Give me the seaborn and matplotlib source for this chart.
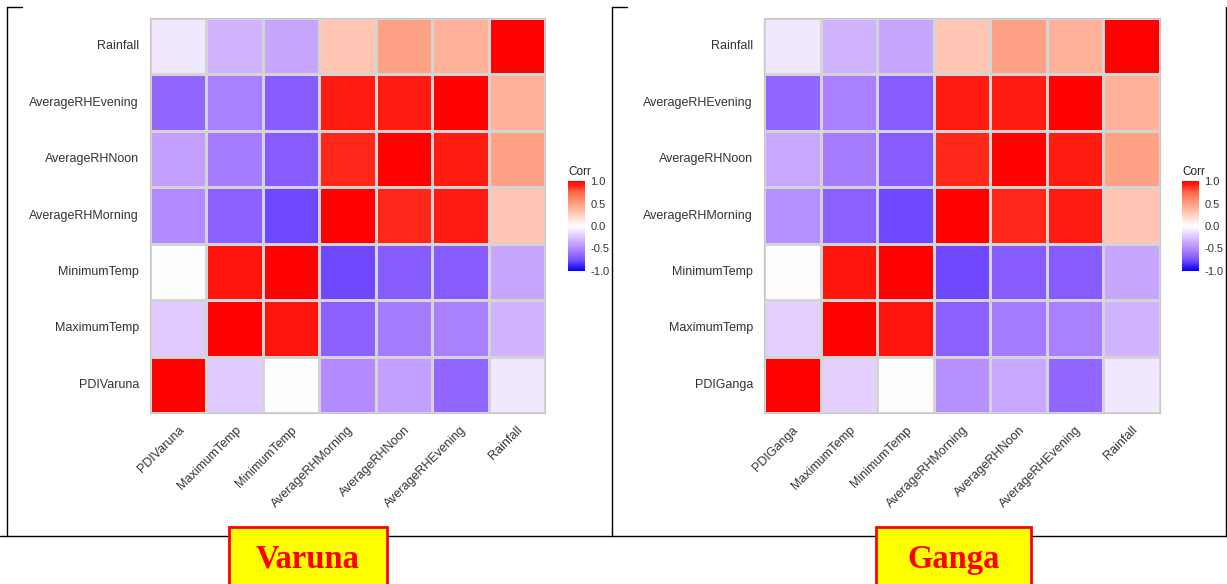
import matplotlib
matplotlib.use("Agg")
import matplotlib.pyplot as plt
from matplotlib.colors import LinearSegmentedColormap
from matplotlib.lines import Line2D
from matplotlib.patches import Rectangle
import seaborn as sns
import numpy as np
import pandas as pd

# variables (bottom -> top on y, left -> right on x)
vars_varuna = ["PDIVaruna", "MaximumTemp", "MinimumTemp", "AverageRHMorning",
               "AverageRHNoon", "AverageRHEvening", "Rainfall"]
vars_ganga = ["PDIGanga", "MaximumTemp", "MinimumTemp", "AverageRHMorning",
              "AverageRHNoon", "AverageRHEvening", "Rainfall"]

# correlation values read off the tiles (estimated from colour)
corr_varuna = [
    [1.00, -0.22, 0.00, -0.50, -0.40, -0.65, -0.10],
    [-0.22, 1.00, 0.95, -0.68, -0.56, -0.54, -0.32],
    [0.00, 0.95, 1.00, -0.78, -0.70, -0.70, -0.38],
    [-0.50, -0.68, -0.78, 1.00, 0.90, 0.93, 0.30],
    [-0.40, -0.56, -0.70, 0.90, 1.00, 0.93, 0.48],
    [-0.65, -0.54, -0.70, 0.93, 0.93, 1.00, 0.40],
    [-0.10, -0.32, -0.38, 0.30, 0.48, 0.40, 1.00],
]
corr_ganga = [
    [1.00, -0.20, 0.01, -0.47, -0.37, -0.65, -0.10],
    [-0.20, 1.00, 0.95, -0.68, -0.56, -0.54, -0.32],
    [0.01, 0.95, 1.00, -0.78, -0.70, -0.70, -0.38],
    [-0.47, -0.68, -0.78, 1.00, 0.90, 0.93, 0.30],
    [-0.37, -0.56, -0.70, 0.90, 1.00, 0.93, 0.48],
    [-0.65, -0.54, -0.70, 0.93, 0.93, 1.00, 0.40],
    [-0.10, -0.32, -0.38, 0.30, 0.48, 0.40, 1.00],
]

cbar_ticks = [-1.0, -0.5, 0.0, 0.5, 1.0]
panel_names = ["Varuna", "Ganga"]

# blue - white - red gradient, interpolated like ggplot's gradient2 (Lab)
gradient_colors = ["#0000FF", "#7D51FF", "#B38AFF", "#DCC4FF", "#FFFFFF",
                   "#FFCFBF", "#FF9E81", "#FF6746", "#FF0000"]
cmap = LinearSegmentedColormap.from_list("corr", gradient_colors)

W, H = 1227, 584


def fx(px):
    return px / W


def fy(py):
    return 1 - py / H


sns.set_style("white")
plt.rcParams["font.family"] = ["Liberation Sans", "DejaVu Sans"]

fig = plt.figure(figsize=(W / 100, H / 100), dpi=100)


def draw_panel(labels, corr, x0, x1, cb_x):
    df = pd.DataFrame(corr, index=labels, columns=labels)
    ax = fig.add_axes([fx(x0), fy(413), fx(x1 - x0), (413 - 18) / H])
    cax = fig.add_axes([fx(cb_x), fy(271), fx(17), 90 / H])
    sns.heatmap(df.iloc[::-1], ax=ax, cbar_ax=cax, cmap=cmap, vmin=-1, vmax=1,
                linewidths=0.8, linecolor="#d4d4d4")
    ax.set_xlabel("")
    ax.set_ylabel("")
    ax.set_xticklabels(labels, rotation=45, ha="right", va="top",
                       rotation_mode="anchor", fontsize=9, color="#333333")
    ax.set_yticklabels(labels[::-1], rotation=0, fontsize=9, color="#333333")
    ax.tick_params(axis="x", length=0, pad=8)
    ax.tick_params(axis="y", length=0, pad=8)
    for s in ax.spines.values():
        s.set_visible(True)
        s.set_color("#c8c8c8")
        s.set_linewidth(0.8)

    cax.set_yticks(cbar_ticks)
    cax.set_yticklabels([f"{t:.1f}" for t in cbar_ticks], fontsize=8, color="#333333")
    cax.tick_params(axis="y", direction="in", color="white", length=3, width=0.8,
                    left=True, right=True, labelleft=False, labelright=True, pad=4)
    for s in cax.spines.values():
        s.set_visible(False)
    cax.set_title("Corr", loc="left", fontsize=8.5, pad=4, color="#222222")


draw_panel(vars_varuna, corr_varuna, 150, 545, 568)
draw_panel(vars_ganga, corr_ganga, 764, 1160, 1182)

# panel frames
frame = dict(color="black", lw=1.0, transform=fig.transFigure)
fig.add_artist(Line2D([fx(7), fx(7)], [fy(7), fy(536)], **frame))
fig.add_artist(Line2D([fx(7), fx(22)], [fy(7), fy(7)], **frame))
fig.add_artist(Line2D([fx(612), fx(612)], [fy(7), fy(536)], **frame))
fig.add_artist(Line2D([fx(612), fx(627)], [fy(7), fy(7)], **frame))
fig.add_artist(Line2D([fx(1226), fx(1226)], [fy(7), fy(536)], **frame))
fig.add_artist(Line2D([fx(0), fx(1227)], [fy(536), fy(536)], **frame))

# name boxes
for name, (bx0, bx1) in zip(panel_names, [(229, 387), (876, 1031)]):
    fig.add_artist(Rectangle((fx(bx0), fy(600)), fx(bx1 - bx0), (600 - 527) / H,
                             transform=fig.transFigure, facecolor="#FFFF00",
                             edgecolor="#FF0000", lw=2, zorder=5))
    fig.text(fx((bx0 + bx1) / 2), fy(568), name, ha="center", va="baseline",
             fontsize=23.5, fontweight="bold", color="#FF0000",
             family="Liberation Serif", zorder=6)

fig.savefig("out.png", dpi=100)
